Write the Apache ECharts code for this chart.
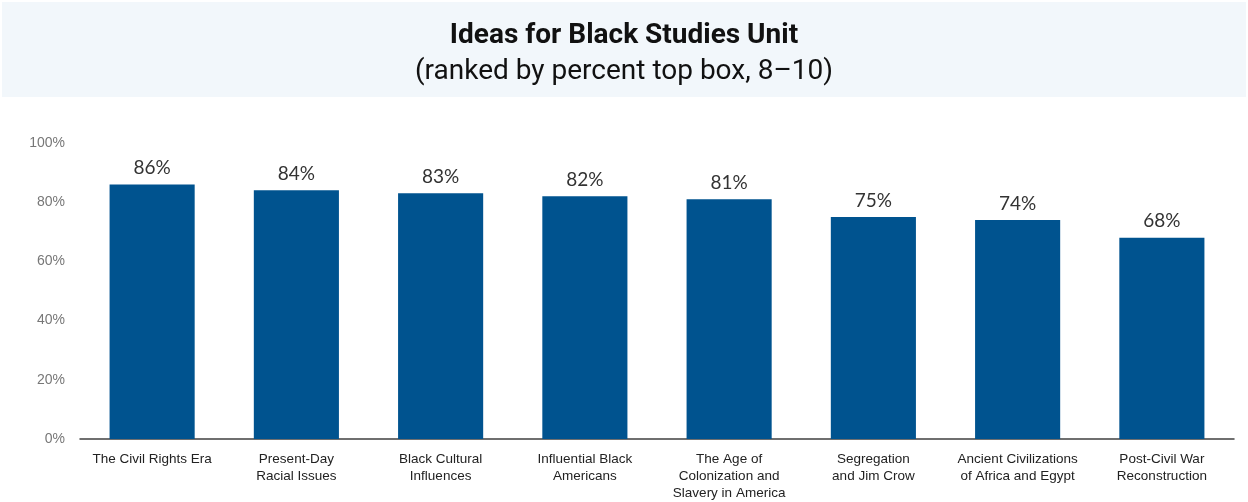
<!DOCTYPE html>
<html>
<head>
<meta charset="utf-8">
<script src="https://cdn.jsdelivr.net/npm/echarts@6/dist/echarts.min.js"></script>
<style>
html,body{margin:0;padding:0;background:#fff;}
#chart{width:1248px;height:502px;}
</style>
</head>
<body>
<div id="chart"></div>
<script>
// 数据
const categories = [
    'The Civil Rights Era',
    'Present-Day\nRacial Issues',
    'Black Cultural\nInfluences',
    'Influential Black\nAmericans',
    'The Age of\nColonization and\nSlavery in America',
    'Segregation\nand Jim Crow',
    'Ancient Civilizations\nof Africa and Egypt',
    'Post-Civil War\nReconstruction'
];
const topBoxValues = [86, 84, 83, 82, 81, 75, 74, 68];
const yTicks = [0, 20, 40, 60, 80, 100];

const chart = echarts.init(document.getElementById('chart'));
const option = {
    animation: false,
    graphic: [{
        type: 'rect',
        left: 2,
        top: 2,
        shape: {width: 1244, height: 95},
        style: {fill: '#f2f7fb'},
        z: -10
    }],
    title: {
        text: 'Ideas for Black Studies Unit',
        subtext: '(ranked by percent top box, 8\u201310)',
        left: 'center',
        top: 17,
        itemGap: 8,
        textStyle: {
            fontFamily: 'Roboto',
            fontWeight: 'bold',
            fontSize: 28,
            color: '#111'
        },
        subtextStyle: {
            fontFamily: 'Roboto',
            fontSize: 28,
            color: '#111'
        }
    },
    grid: {
        left: 80,
        right: 14,
        top: 143,
        bottom: 63
    },
    xAxis: {
        type: 'category',
        data: categories,
        axisTick: {show: false},
        axisLine: {lineStyle: {color: '#404040', width: 1.5}},
        axisLabel: {
            interval: 0,
            color: '#222',
            fontFamily: 'Liberation Sans',
            fontSize: 13.5,
            lineHeight: 17,
            margin: 12
        }
    },
    yAxis: {
        type: 'value',
        min: yTicks[0],
        max: yTicks[yTicks.length - 1],
        interval: 20,
        splitLine: {show: false},
        axisLine: {show: false},
        axisTick: {show: false},
        axisLabel: {
            color: '#777',
            fontFamily: 'Liberation Sans',
            fontSize: 14,
            margin: 15,
            formatter: '{value}%'
        }
    },
    series: [{
        type: 'bar',
        data: topBoxValues,
        barWidth: '59%',
        itemStyle: {color: '#00538f'},
        label: {
            show: true,
            position: 'top',
            distance: 7,
            color: '#333',
            fontFamily: 'Lato',
            fontSize: 19,
            formatter: '{c}%'
        }
    }]
};
chart.setOption(option);
</script>
</body>
</html>
